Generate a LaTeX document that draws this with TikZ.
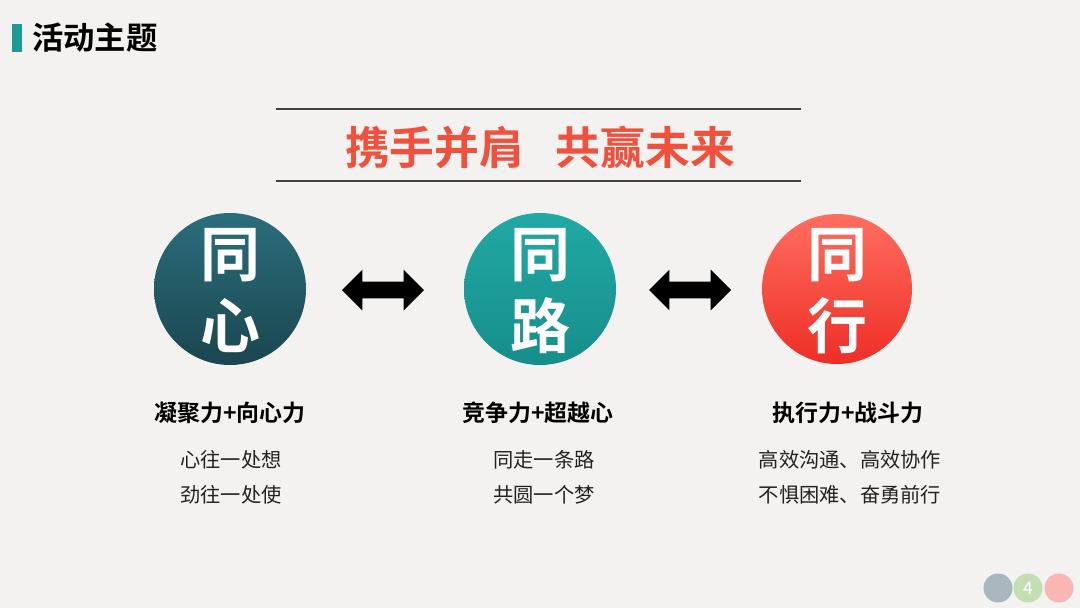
\documentclass[tikz,border=0pt]{standalone}
\usepackage{fontspec}
\setmainfont{Noto Sans CJK SC}
\newfontfamily\cjkb{Noto Sans CJK SC Bold}
\usetikzlibrary{shapes.arrows}
\definecolor{bgc}{HTML}{F3F2F0}
\definecolor{tealbar}{HTML}{1E9A96}
\definecolor{redt}{HTML}{F0503C}
\definecolor{ca1}{HTML}{2B6E7B}
\definecolor{ca2}{HTML}{1A4650}
\definecolor{cb1}{HTML}{22A9A5}
\definecolor{cb2}{HTML}{168E8B}
\definecolor{cc1}{HTML}{FF6E60}
\definecolor{cc2}{HTML}{EE2E26}
\definecolor{pg1}{HTML}{A8B8BE}
\definecolor{pg2}{HTML}{C4DDB3}
\definecolor{pg3}{HTML}{F8B7B3}
\definecolor{txt}{HTML}{222222}
\begin{document}
\begin{tikzpicture}[x=0.75pt,y=-0.75pt,
  bigc/.style={circle,minimum size=152*0.75pt,inner sep=0pt},
  bigt/.style={text=white,font=\cjkb\fontsize{45pt}{54pt}\selectfont,align=center},
  dbl/.style={double arrow,fill=black,draw=none,minimum height=82*0.75pt,inner xsep=0pt,inner ysep=6pt,double arrow head extend=9pt},
  subt/.style={font=\cjkb\fontsize{17.2pt}{20pt}\selectfont,text=black},
  body/.style={font=\fontsize{15.2pt}{26pt}\selectfont,text=txt,align=center},
  pgc/.style={circle,minimum size=29*0.75pt,inner sep=0pt}]
\useasboundingbox (0,0) rectangle (1080,608);
\fill[bgc] (0,0) rectangle (1080,608);
% header
\fill[tealbar] (12,24) rectangle (22,52);
\node[anchor=west,font=\cjkb\fontsize{23.5pt}{26pt}\selectfont,text=black,inner sep=0pt] (hdr) at (32,38) {活动主题};
% title
\coordinate (l1a) at (276,109); \coordinate (l1b) at (801,109);
\coordinate (l2a) at (276,181); \coordinate (l2b) at (801,181);
\draw[line width=0.8pt,black!75] (l1a) -- (l1b);
\draw[line width=0.8pt,black!75] (l2a) -- (l2b);
\node[font=\cjkb\fontsize{33.6pt}{38pt}\selectfont,text=redt,inner sep=0pt] (ttl) at (540,147) {携手并肩\hspace{0.7em}共赢未来};
% circles
\shade[top color=ca1,bottom color=ca2] (230,289) circle (76);
\shade[top color=cb1,bottom color=cb2] (540,289) circle (76);
\shade[top color=cc1,bottom color=cc2] (837,289) circle (75);
\node[bigc] (c1) at (230,289) {};
\node[bigc] (c2) at (540,289) {};
\node[bigc] (c3) at (837,289) {};
\node[bigt] (t1a) at (230,255) {同};
\node[bigt] (t1b) at (230,326) {心};
\node[bigt] (t2a) at (540,255) {同};
\node[bigt] (t2b) at (540,326) {路};
\node[bigt] (t3a) at (837,255) {同};
\node[bigt] (t3b) at (837,326) {行};
% arrows
\node[dbl] (a1) at (383,290) {};
\node[dbl] (a2) at (690,290) {};
% subtitles
\node[subt] (s1) at (230,413) {凝聚力+向心力};
\node[subt] (s2) at (538,413) {竞争力+超越心};
\node[subt] (s3) at (848,413) {执行力+战斗力};
\node[body] (b1) at (231,477) {心往一处想\\劲往一处使};
\node[body] (b2) at (544,477) {同走一条路\\共圆一个梦};
\node[body] (b3) at (850,477) {高效沟通、高效协作\\不惧困难、奋勇前行};
% page
\node[pgc,fill=pg1] (p1) at (998,588) {};
\node[pgc,fill=pg3] (p3) at (1059,588) {};
\node[pgc,fill=pg2,text=white,font=\fontsize{13pt}{15pt}\selectfont] (p2) at (1028,588) {4};
\end{tikzpicture}
\end{document}
